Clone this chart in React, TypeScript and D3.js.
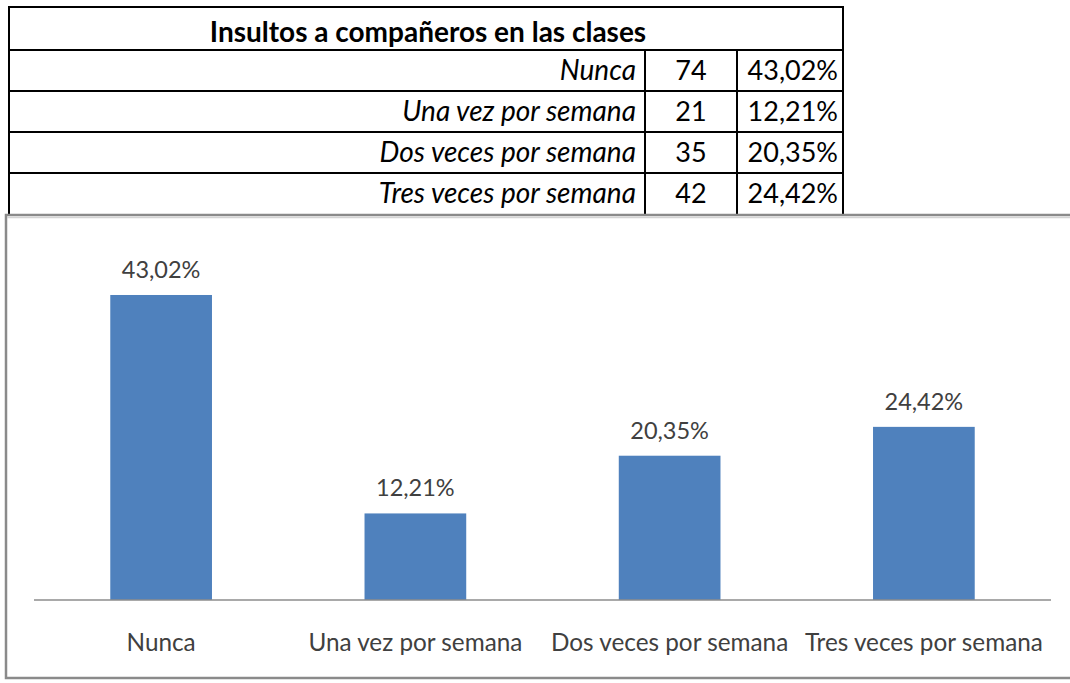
import React from "react";
import * as d3 from "d3";

const title = "Insultos a compañeros en las clases";
const categories = ["Nunca", "Una vez por semana", "Dos veces por semana", "Tres veces por semana"];
const counts = [74, 21, 35, 42];
const percents = [43.02, 12.21, 20.35, 24.42];
const yMax = 50;

const fmt = (v: number) => v.toFixed(2).replace(".", ",") + "%";

const FONT = "Lato, 'Open Sans', sans-serif";

export default function App() {
  const W = 1070, H = 683;
  // table geometry
  const tLeft = 9, tRight = 843, col1 = 645, col2 = 737;
  const rowY = d3.range(6).map((i) => (i === 0 ? 7 : 50 + (i - 1) * 41));
  const x = d3.scaleBand<string>().domain(categories).range([34, 1051]).paddingInner(0.6).paddingOuter(0.3);
  const y = d3.scaleLinear().domain([0, yMax]).range([600, 245.5]);

  return (
    <svg width={W} height={H} style={{ position: "absolute", left: 0, top: 0 }} fontFamily={FONT}>
      <rect x={0} y={0} width={W} height={H} fill="#fff" />
      {/* table */}
      <g stroke="#000" strokeWidth={2} fill="none">
        <line x1={tLeft} x2={tLeft} y1={6} y2={214} />
        <line x1={tRight} x2={tRight} y1={6} y2={214} />
        {rowY.slice(0, 5).map((yy, i) => (
          <line key={i} x1={tLeft - 1} x2={tRight + 1} y1={yy} y2={yy} />
        ))}
        <line x1={col1} x2={col1} y1={50} y2={214} />
        <line x1={col2} x2={col2} y1={50} y2={214} />
      </g>
      <text x={(tLeft + tRight) / 2 + 2} y={42} textAnchor="middle" fontWeight="bold" fontSize={28} fill="#000">
        {title}
      </text>
      {categories.map((c, i) => {
        const base = rowY[i + 1] + 30;
        return (
          <g key={c} fontSize={27} fill="#000">
            <text x={col1 - 9} y={base} textAnchor="end" fontStyle="italic" fontSize={28}>{c}</text>
            <text x={(col1 + col2) / 2} y={base} textAnchor="middle">{counts[i]}</text>
            <text x={tRight - 5} y={base} textAnchor="end">{fmt(percents[i])}</text>
          </g>
        );
      })}
      {/* chart frame */}
      <rect x={6} y={215} width={1090} height={463} fill="#fff" stroke="#8a8a8a" strokeWidth={2.5} />
      <line x1={7} x2={1070} y1={217.5} y2={217.5} stroke="#d4d4d4" strokeWidth={1.5} />
      {/* bars */}
      {categories.map((c, i) => (
        <g key={c}>
          <rect x={x(c)} y={y(percents[i])} width={x.bandwidth()} height={y(0) - y(percents[i])} fill="#4f81bd" />
          <text x={(x(c) as number) + x.bandwidth() / 2} y={y(percents[i]) - 17} textAnchor="middle" fontSize={23.5} fill="#404040">
            {fmt(percents[i])}
          </text>
          <text x={(x(c) as number) + x.bandwidth() / 2} y={651} textAnchor="middle" fontSize={24.3} fill="#404040">
            {c}
          </text>
        </g>
      ))}
      <line x1={34} x2={1051} y1={600} y2={600} stroke="#8c8c8c" strokeWidth={1.5} />
    </svg>
  );
}
